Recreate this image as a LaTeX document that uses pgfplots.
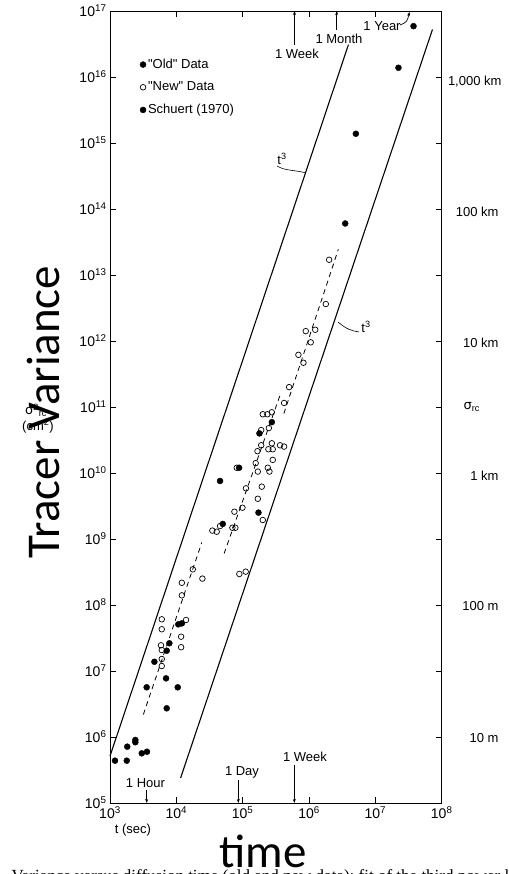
\documentclass[border=0pt]{standalone}
\usepackage{fontspec}
\setmainfont{Liberation Sans}
\newfontfamily\quotefont{Liberation Sans}[Ligatures=TeXOff]
\newfontfamily\capserif{Liberation Serif}
\newfontfamily\overlayfont{Carlito}
\newfontfamily\greekfont{DejaVu Sans}
\usepackage{pgfplots}
\pgfplotsset{compat=1.18}
\usetikzlibrary{arrows.meta}

\begin{document}
\begin{tikzpicture}[x=1pt,y=1pt]
\begin{axis}[
  at={(0,0)}, anchor=south west,
  scale only axis, width=331.7pt, height=792pt,
  xmode=log, ymode=log,
  xmin=1e3, xmax=1e8, ymin=1e5, ymax=1e17,
  xtick={1e3,1e4,1e5,1e6,1e7,1e8},
  xticklabels={10\textsuperscript{3},10\textsuperscript{4},10\textsuperscript{5},
               10\textsuperscript{6},10\textsuperscript{7},10\textsuperscript{8}},
  ytick={1e5,1e6,1e7,1e8,1e9,1e10,1e11,1e12,1e13,1e14,1e15,1e16,1e17},
  yticklabels={10\textsuperscript{5},10\textsuperscript{6},10\textsuperscript{7},
               10\textsuperscript{8},10\textsuperscript{9},10\textsuperscript{10},
               10\textsuperscript{11},10\textsuperscript{12},10\textsuperscript{13},
               10\textsuperscript{14},10\textsuperscript{15},10\textsuperscript{16},
               10\textsuperscript{17}},
  tick label style={font=\fontsize{14}{14}\selectfont},
  major tick length=6pt,
  minor tick style={draw=none},
  axis line style={line width=0.9pt},
  tick style={line width=0.8pt, black},
  clip=false,
  legend style={at={(0.09,0.942)}, anchor=north west, draw=none, fill=none,
                font=\fontsize{13}{13}\selectfont, row sep=8pt,
                inner sep=0pt},
  legend cell align=left,
  legend image code/.code={\draw[#1] plot coordinates {(0pt,0pt)};},
]

% "Old" data
\addplot[only marks, mark=*, mark size=3pt, black] coordinates {
  (1.19e3,4.38e5) (1.79e3,4.38e5) (1.82e3,7.13e5) (2.41e3,9.02e5)
  (2.41e3,8.32e5) (3.01e3,5.66e5) (3.61e3,5.98e5) (3.57e3,5.66e6)
  (4.67e3,1.38e7) (7.16e3,2.03e7) (7.85e3,2.63e7) (7.00e3,7.74e6)
  (7.16e3,2.72e6) (1.05e4,5.66e6) (1.07e4,5.09e7) (1.21e4,5.27e7)
  (5.01e4,1.69e9) (4.56e4,7.57e9) (8.83e4,1.20e10) (1.73e5,2.51e9)
  (1.79e5,3.98e10) (2.75e5,5.89e10)
};
\addlegendentry{{\quotefont"Old"} Data}

% "New" data
\addplot[only marks, mark=o, mark size=2.8pt, mark options={line width=0.7pt}, black] coordinates {
  (6.03e3,6.07e7) (6.03e3,4.29e7) (5.87e3,2.45e7) (6.03e3,2.08e7)
  (6.03e3,1.52e7) (6.03e3,1.19e7) (1.21e4,1.40e8) (1.40e4,5.93e7)
  (1.18e4,3.31e7) (1.18e4,2.29e7) (1.21e4,2.17e8) (1.77e4,3.47e8)
  (2.47e4,2.51e8)
  (3.49e4,1.34e9) (4.06e4,1.29e9) (4.56e4,1.57e9) (7.50e4,2.59e9)
  (7.00e4,1.48e9) (7.76e4,1.48e9) (8.15e4,1.20e10) (9.91e4,2.98e9)
  (1.12e5,5.86e9) (8.91e4,2.95e8) (1.11e5,3.20e8) (1.57e5,1.41e10)
  (1.69e5,1.05e10) (1.69e5,4.07e9) (1.94e5,6.21e9) (2.01e5,1.94e9)
  (1.67e5,2.14e10) (1.90e5,2.63e10) (1.90e5,4.47e10) (2.01e5,7.76e10)
  (2.36e5,7.76e10) (2.75e5,8.32e10) (2.48e5,4.79e10) (2.39e5,1.20e10)
  (2.53e5,1.05e10) (2.44e5,2.29e10) (2.75e5,2.82e10) (2.84e5,2.29e10)
  (2.84e5,1.58e10) (3.66e5,2.63e10) (4.21e5,2.51e10) (4.21e5,1.15e11)
  (5.01e5,2.00e11)
  (6.92e5,6.17e11) (8.24e5,4.68e11) (1.06e6,9.55e11) (8.93e5,1.41e12)
  (1.24e6,1.48e12) (1.79e6,3.63e12) (2.01e6,1.70e13)
};
\addlegendentry{{\quotefont"New"} Data}

% Schuert (1970)
\addplot[only marks, mark=*, mark size=3pt, black] coordinates {
  (3.51e6,6.03e13) (5.08e6,1.38e15) (2.23e7,1.38e16) (3.76e7,5.89e16)
};
\addlegendentry{Schuert (1970)}

% t^3 envelopes
\addplot[black, line width=1.1pt, forget plot] coordinates {(1.00e3,5.13e5) (3.93e6,3.09e16)};
\addplot[black, line width=1.1pt, forget plot] coordinates {(1.16e4,2.40e5) (7.26e7,5.25e16)};

% dashed fits
\addplot[black, line width=0.8pt, dash pattern=on 5pt off 4pt, forget plot]
  coordinates {(3.18e3,2.19e6) (2.42e4,8.85e8)};
\addplot[black, line width=0.8pt, dash pattern=on 5pt off 4pt, forget plot]
  coordinates {(5.25e4,6.03e8) (3.66e5,1.51e11)};
\addplot[black, line width=0.8pt, dash pattern=on 5pt off 4pt, forget plot]
  coordinates {(4.17e5,7.94e10) (2.77e6,2.45e13)};
\end{axis}

\begin{scope}[font=\fontsize{13}{13}\selectfont]
% time markers, top
\draw[line width=0.7pt, -{Stealth[length=4pt,width=3pt]}] (184.5,758) -- (184.5,792);
\node at (187,749) {1 Week};
\draw[line width=0.7pt, -{Stealth[length=4pt,width=3pt]}] (226.7,773) -- (226.7,792);
\node at (229,764) {1 Month};
\node at (272,777.3) {1 Year};
\draw[line width=0.7pt, -{Stealth[length=4pt,width=3pt]}] (290,778) .. controls (297,781) .. (299.5,791);
% time markers, bottom
\draw[line width=0.7pt, -{Stealth[length=4pt,width=3pt]}] (36.7,13) -- (36.7,0);
\node at (35.5,20) {1 Hour};
\draw[line width=0.7pt, -{Stealth[length=4pt,width=3pt]}] (128.3,23) -- (128.3,0);
\node at (132,30.3) {1 Day};
\draw[line width=0.7pt, -{Stealth[length=4pt,width=3pt]}] (184.3,38) -- (184.3,0);
\node at (195,46.3) {1 Week};
% t^3 labels
\node at (172,644) {t\textsuperscript{3}};
\draw[line width=0.6pt] (167,637) .. controls (175,632) and (186,633) .. (196,630);
\node at (256,476) {t\textsuperscript{3}};
\draw[line width=0.6pt] (228,481) .. controls (236,474) and (242,472) .. (249,471);
% right-hand scale
\node[anchor=east] at (395,721.3) {1,000 km};
\node[anchor=east] at (392,591.3) {100 km};
\node[anchor=east] at (392,460.3) {10 km};
\node[anchor=west] at (350,396) {{\greekfont σ}\textsubscript{rc}};
\node[anchor=east] at (392,327) {1 km};
\node[anchor=east] at (392,197) {100 m};
\node[anchor=east] at (392,65) {10 m};
% axis titles
\node at (23,-27) {t (sec)};
\node at (-74,393) {{\greekfont σ}\textsuperscript{2}\textsubscript{rc}};
\node at (-72,377) {(cm\textsuperscript{2})};
\end{scope}

\node[rotate=90, anchor=base, font=\overlayfont\fontsize{47}{47}\selectfont] at (-50,391) {Tracer Variance};
\node[anchor=base, font=\overlayfont\fontsize{47}{47}\selectfont] at (153,-64) {time};
\node[anchor=base west, font=\capserif\fontsize{17}{17}\selectfont] at (-102,-78)
  {Variance versus diffusion time (old and new data); fit of the third power law};

\pgfresetboundingbox
\path (-110,-71) rectangle (398,803);
\end{tikzpicture}
\end{document}
